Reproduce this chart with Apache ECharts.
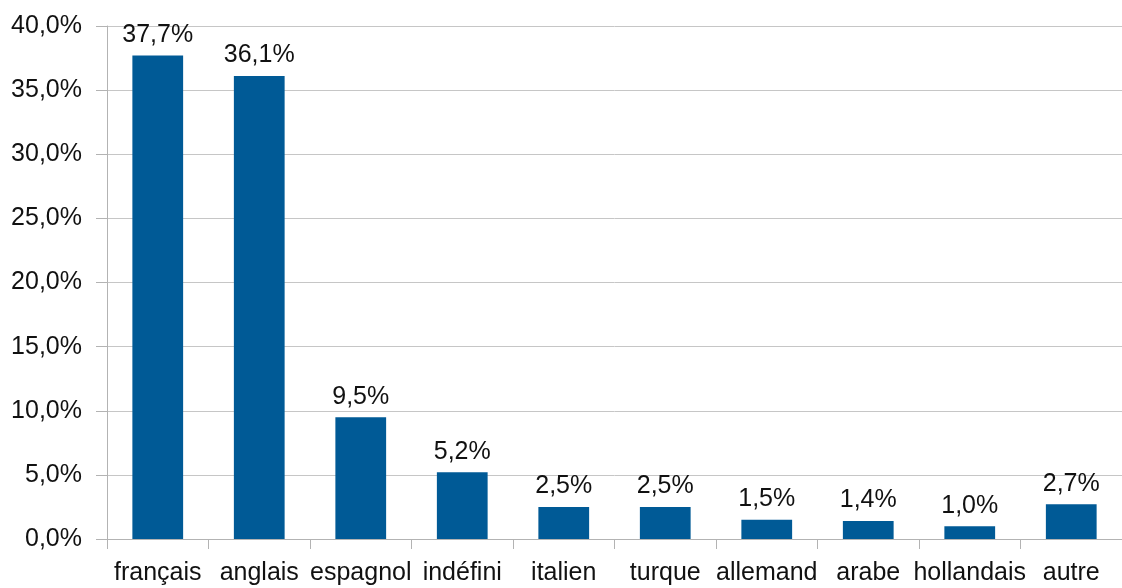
<!DOCTYPE html>
<html>
<head>
<meta charset="utf-8">
<script src="https://cdn.jsdelivr.net/npm/echarts@6/dist/echarts.min.js"></script>
<style>
  html, body { margin: 0; padding: 0; background: #fff; }
  #chart { width: 1122px; height: 588px; }
</style>
</head>
<body>
<div id="chart"></div>
<script>
const categories = ['français', 'anglais', 'espagnol', 'indéfini', 'italien', 'turque', 'allemand', 'arabe', 'hollandais', 'autre'];
const shares = [37.7, 36.1, 9.5, 5.2, 2.5, 2.5, 1.5, 1.4, 1.0, 2.7];
const yTicks = [0, 5, 10, 15, 20, 25, 30, 35, 40];

const fmt = v => v.toFixed(1).replace('.', ',') + '%';
const font = '"Liberation Sans", Arial, sans-serif';

const chart = echarts.init(document.getElementById('chart'), null, { renderer: 'canvas' });
chart.setOption({
  animation: false,
  backgroundColor: '#ffffff',
  grid: { left: 107, right: -5, top: 26, bottom: 49, containLabel: false },
  xAxis: {
    type: 'category',
    data: categories,
    axisLine: { lineStyle: { color: '#b3b3b3', width: 1 } },
    axisTick: { show: true, length: 10, alignWithLabel: false, lineStyle: { color: '#b3b3b3' } },
    axisLabel: { color: '#111', fontSize: 25, fontFamily: font, margin: 22, interval: 0 }
  },
  yAxis: {
    type: 'value',
    min: yTicks[0],
    max: yTicks[yTicks.length - 1],
    interval: 5,
    axisLine: { show: true, lineStyle: { color: '#b3b3b3', width: 1 } },
    axisTick: { show: true, length: 11, lineStyle: { color: '#b3b3b3' } },
    splitLine: { lineStyle: { color: '#c6c6c6', width: 1 } },
    axisLabel: { color: '#111', fontSize: 25, fontFamily: font, margin: 25, formatter: v => fmt(v) }
  },
  series: [{
    type: 'bar',
    data: shares,
    barWidth: '50%',
    itemStyle: { color: '#005a96' },
    label: {
      show: true,
      position: 'top',
      distance: 8,
      color: '#111',
      fontSize: 25,
      fontFamily: font,
      formatter: p => fmt(p.value)
    }
  }]
});
</script>
</body>
</html>
